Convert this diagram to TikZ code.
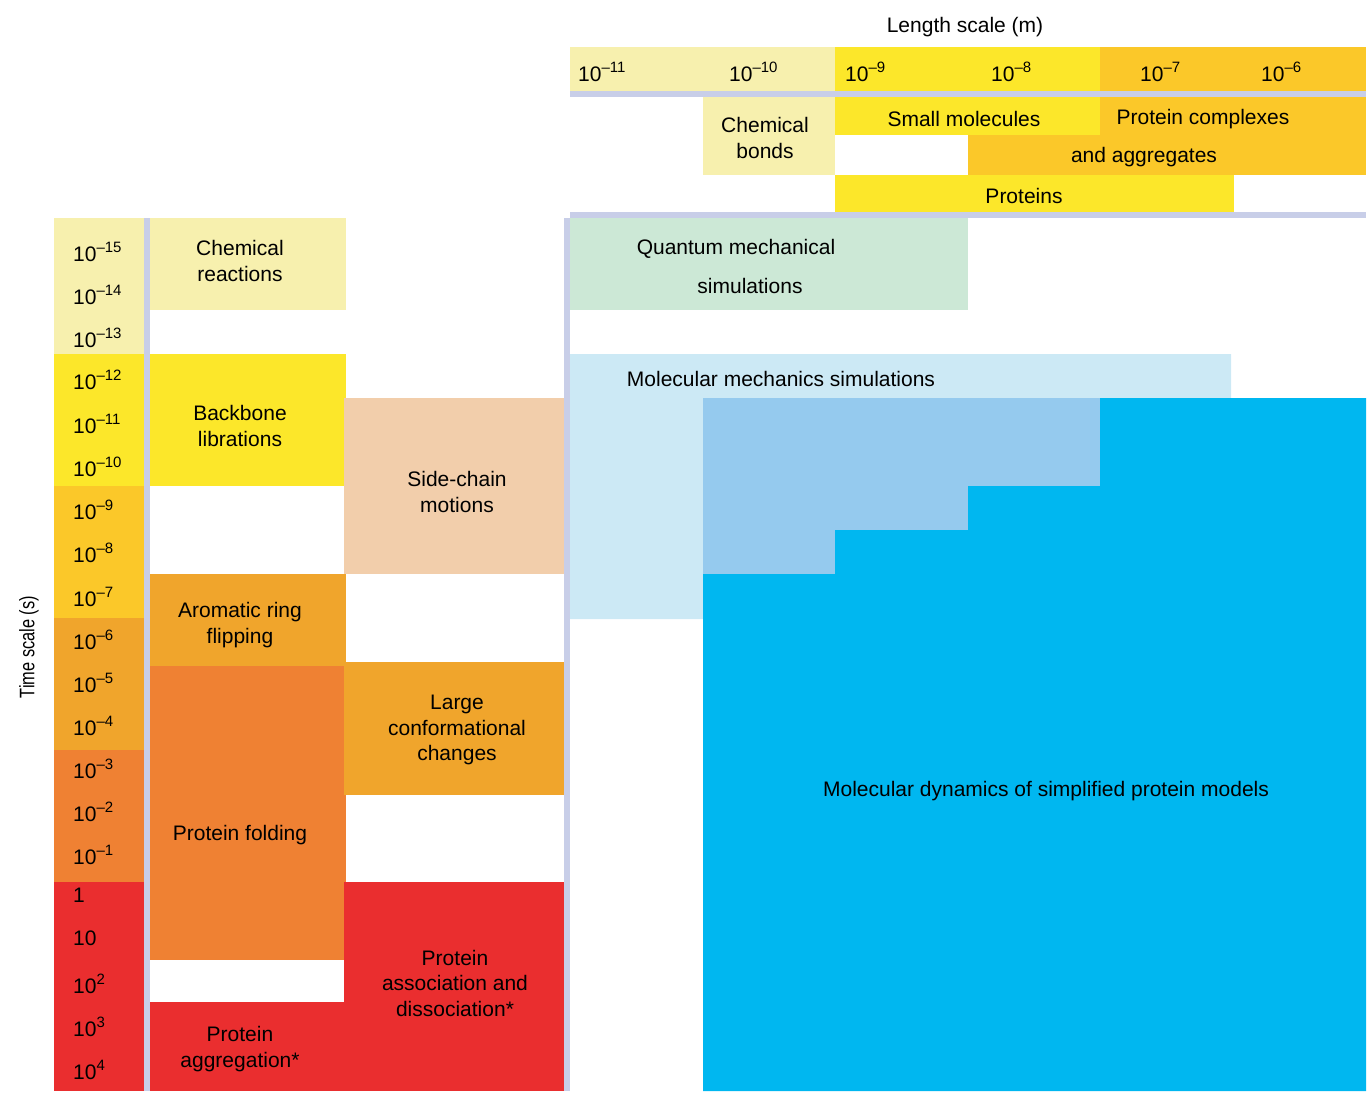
\documentclass[tikz,border=0pt]{standalone}
\usepackage{fontspec}
\setmainfont{Liberation Sans}
\definecolor{cLY}{HTML}{F7F0AE}
\definecolor{cY}{HTML}{FCE72A}
\definecolor{cOY}{HTML}{FBC829}
\definecolor{cO}{HTML}{F0A52C}
\definecolor{cDO}{HTML}{EF8133}
\definecolor{cR}{HTML}{EA2E2F}
\definecolor{cPe}{HTML}{F2CEAB}
\definecolor{cLav}{HTML}{C8CEE8}
\definecolor{cMint}{HTML}{CCE8D6}
\definecolor{cLB}{HTML}{CCE9F5}
\definecolor{cMB}{HTML}{95CAEE}
\definecolor{cBB}{HTML}{00B7F0}
\newcommand\myex[1]{\raisebox{0.45em}{\fontsize{15}{15}\selectfont #1}}
\begin{document}
\begin{tikzpicture}[x=1pt,y=-1pt,
  lbl/.style={inner sep=0pt,align=center,font=\fontsize{21}{25.5}\selectfont},
  tick/.style={inner sep=0pt,anchor=west,font=\fontsize{21}{24}\selectfont}]
\useasboundingbox (0,0) rectangle (1370,1099);
% header
\fill[cLY] (570,47) rectangle (835,91);
\fill[cY] (835,47) rectangle (1100,91);
\fill[cOY] (1100,47) rectangle (1366,91);
\fill[cLav] (570,91) rectangle (1366,97);
\fill[cLY] (703,97) rectangle (835,175);
\fill[cY] (835,97) rectangle (1100,135);
\fill[cOY] (1100,97) rectangle (1366,175);
\fill[cOY] (968,135) rectangle (1366,175);
\fill[cY] (835,175) rectangle (1234,212);
\fill[cLav] (570,212) rectangle (1366,218);
% left time column
\fill[cLY] (54,218) rectangle (144,354);
\fill[cY] (54,354) rectangle (144,486);
\fill[cOY] (54,486) rectangle (144,618);
\fill[cO] (54,618) rectangle (144,750);
\fill[cDO] (54,750) rectangle (144,882);
\fill[cR] (54,882) rectangle (144,1091);
\fill[cLav] (144,218) rectangle (150,1091);
% processes
\fill[cLY] (150,218) rectangle (346,310);
\fill[cY] (150,354) rectangle (346,486);
\fill[cPe] (344,398) rectangle (564,574);
\fill[cO] (150,574) rectangle (346,666);
\fill[cDO] (150,666) rectangle (346,960);
\fill[cO] (344,662) rectangle (564,795);
\fill[cR] (344,882) rectangle (564,1091);
\fill[cR] (150,1002) rectangle (346,1091);
\fill[cLav] (564,218) rectangle (570,1091);
% methods
\fill[cMint] (570,218) rectangle (968,310);
\fill[cLB] (570,354) -- (1231,354) -- (1231,398) -- (703,398) -- (703,619) -- (570,619) -- cycle;
\fill[cMB] (703,398) -- (1100,398) -- (1100,486) -- (968,486) -- (968,530) -- (835,530) -- (835,574) -- (703,574) -- cycle;
\fill[cBB] (1100,398) -- (1366,398) -- (1366,1091) -- (703,1091) -- (703,574) -- (835,574) -- (835,530) -- (968,530) -- (968,486) -- (1100,486) -- cycle;
% titles
\node[lbl] (lentitle) at (965,27) {Length scale (m)};
\node[lbl,rotate=90] (timetitle) at (29,647) {\scalebox{0.78}[1]{Time scale (s)}};
% length ticks
\node[tick] (l11) at (578,72) {10\myex{–11}};
\node[tick] (l10) at (729,72) {10\myex{–10}};
\node[tick] (l9) at (845,72) {10\myex{–9}};
\node[tick] (l8) at (991,72) {10\myex{–8}};
\node[tick] (l7) at (1140,72) {10\myex{–7}};
\node[tick] (l6) at (1261,72) {10\myex{–6}};
% time ticks
\node[tick] (t15) at (73,252) {10\myex{–15}};
\node[tick] (t14) at (73,295) {10\myex{–14}};
\node[tick] (t13) at (73,338) {10\myex{–13}};
\node[tick] (t12) at (73,380) {10\myex{–12}};
\node[tick] (t11) at (73,424) {10\myex{–11}};
\node[tick] (t10) at (73,467) {10\myex{–10}};
\node[tick] (t9) at (73,510) {10\myex{–9}};
\node[tick] (t8) at (73,553) {10\myex{–8}};
\node[tick] (t7) at (73,597) {10\myex{–7}};
\node[tick] (t6) at (73,640) {10\myex{–6}};
\node[tick] (t5) at (73,683) {10\myex{–5}};
\node[tick] (t4) at (73,726) {10\myex{–4}};
\node[tick] (t3) at (73,769) {10\myex{–3}};
\node[tick] (t2) at (73,812) {10\myex{–2}};
\node[tick] (t1) at (73,855) {10\myex{–1}};
\node[tick] (t0) at (73,895) {1};
\node[tick] (tp1) at (73,938) {10};
\node[tick] (tp2) at (73,984) {10\myex{2}};
\node[tick] (tp3) at (73,1027) {10\myex{3}};
\node[tick] (tp4) at (73,1070) {10\myex{4}};
% labels
\node[lbl] (bonds) at (765,138) {Chemical\\bonds};
\node[lbl] (smallmol) at (964,119) {Small molecules};
\node[lbl] (complexes) at (1203,119) {Protein complexes};
\node[lbl] (aggregates) at (1144,157) {and aggregates};
\node[lbl] (proteins) at (1024,196) {Proteins};
\node[lbl] (reactions) at (240,261) {Chemical\\reactions};
\node[lbl] (backbone) at (240,426) {Backbone\\librations};
\node[lbl] (sidechain) at (457,492) {Side-chain\\motions};
\node[lbl] (aromatic) at (240,625) {Aromatic ring\\flipping};
\node[lbl] (largeconf) at (457,730) {Large\\conformational\\changes};
\node[lbl] (folding) at (240,835) {Protein folding};
\node[lbl] (assoc) at (455,983) {Protein\\association and\\dissociation*};
\node[lbl] (aggreg) at (240,1049) {Protein\\aggregation*};
\node[lbl] (qm1) at (736,249) {Quantum mechanical};
\node[lbl] (qm2) at (750,286) {simulations};
\node[lbl] (mm) at (781,379) {Molecular mechanics simulations};
\node[lbl] (md) at (1046,791) {Molecular dynamics of simplified protein models};
\end{tikzpicture}
\end{document}
